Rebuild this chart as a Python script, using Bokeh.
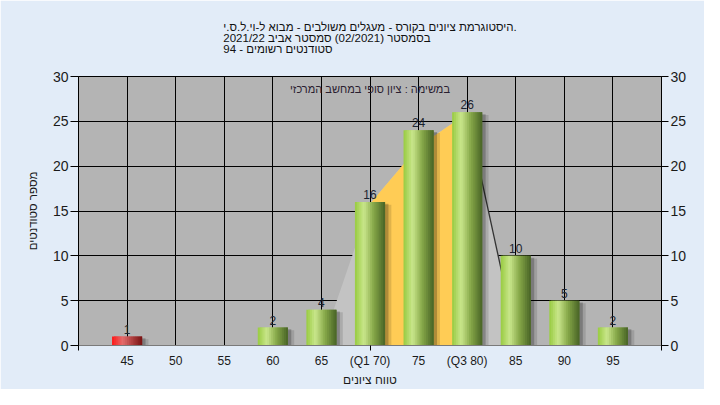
from bokeh.plotting import figure
from bokeh.models import (LinearAxis, FixedTicker, Range1d, Label, Title)
from bokeh.core.properties import value
from bokeh.embed import file_html
from bokeh.resources import INLINE

# ---------------- data ----------------
bins = [45, 50, 55, 60, 65, 70, 75, 80, 85, 90, 95]
counts = [1, 0, 0, 2, 4, 16, 24, 26, 10, 5, 2]
tick_labels = ["45", "50", "55", "60", "65", "(Q1 70)", "75", "(Q3 80)", "85", "90", "95"]
failing_bins = [45]
# frequency-polygon outline
poly_x = [65, 70, 75, 80, 85.2]
poly_y = [0, 15.8, 22.2, 25.9, 0]
q1, q3 = 70, 80
y_ticks = [0, 5, 10, 15, 20, 25, 30]

title_lines = [
    "היסטוגרמת ציונים בקורס - מעגלים משולבים - מבוא ל-וי.ל.ס.י.",
    "בסמסטר  (02/2021)  סמסטר אביב 2021/22",
    "סטודנטים רשומים - 94",
]
note_text = "במשימה : ציון סופי במחשב המרכזי"
x_title = "טווח ציונים"
y_title = "מספר סטודנטים"

FONT = "Liberation Sans"
BAR_W = 3.1
N_STRIPS = 16

green_stops = [(0.0, (0x98, 0xcb, 0x40)), (0.30, (0xc9, 0xe6, 0x8c)),
               (0.62, (0x86, 0xa8, 0x48)), (1.0, (0x48, 0x63, 0x26))]
red_stops = [(0.0, (0xff, 0x16, 0x16)), (0.35, (0xe3, 0x6c, 0x6c)),
             (1.0, (0x78, 0x12, 0x12))]


def interp(stops, t):
    for (t0, c0), (t1, c1) in zip(stops[:-1], stops[1:]):
        if t <= t1:
            f = (t - t0) / (t1 - t0) if t1 > t0 else 0
            c = [round(a + (b - a) * f) for a, b in zip(c0, c1)]
            return "#%02x%02x%02x" % tuple(c)
    return "#%02x%02x%02x" % stops[-1][1]


p = figure(width=704, height=389, output_backend="svg", toolbar_location=None,
           x_range=Range1d(40, 100), y_range=Range1d(0, 30),
           min_border_left=78, min_border_right=43, min_border_top=72,
           min_border_bottom=42)
p.border_fill_color = "#e2ecf8"
p.background_fill_color = "#b4b4b4"
p.outline_line_color = "#000000"

# multi-line title block
p.add_layout(Title(text="\n".join(title_lines), align="center", vertical_align="top",
                   text_font=FONT, text_font_size="11.5px", text_font_style="normal",
                   text_color="#111111", text_line_height=0.92, standoff=40), "above")

# axes
p.xaxis.ticker = FixedTicker(ticks=bins, minor_ticks=[40, 70, 100])
p.xaxis.major_label_overrides = {b: t for b, t in zip(bins, tick_labels)}
p.xaxis.major_tick_out = 0
p.xaxis.major_tick_in = 0
p.xaxis.minor_tick_out = 5
p.xaxis.minor_tick_in = 0
p.xaxis.minor_tick_line_color = "#000000"
p.xaxis.axis_line_color = "#7a7a7a"
p.xaxis.major_label_text_font = FONT
p.xaxis.major_label_text_font_size = "12px"
p.xaxis.major_label_text_color = "#1a1a1a"
p.xaxis.major_label_standoff = 3
p.xaxis.axis_label = x_title
p.xaxis.axis_label_text_font = FONT
p.xaxis.axis_label_text_font_size = "12px"
p.xaxis.axis_label_text_font_style = "normal"
p.xaxis.axis_label_text_color = "#1a1a1a"
p.xaxis.axis_label_standoff = 2

p.yaxis.ticker = FixedTicker(ticks=y_ticks, minor_ticks=[])
p.yaxis.major_tick_out = 8
p.yaxis.major_tick_in = 0
p.yaxis.axis_line_color = "#000000"
p.yaxis.major_tick_line_color = "#000000"
p.yaxis.major_label_text_font = FONT
p.yaxis.major_label_text_font_size = "14px"
p.yaxis.major_label_text_color = "#1a1a1a"
p.yaxis.major_label_standoff = 2
p.yaxis.axis_label = y_title
p.yaxis.axis_label_text_font = FONT
p.yaxis.axis_label_text_font_size = "11.5px"
p.yaxis.axis_label_text_font_style = "normal"
p.yaxis.axis_label_text_color = "#1a1a1a"
p.yaxis.axis_label_standoff = 11

ry = LinearAxis(ticker=FixedTicker(ticks=y_ticks, minor_ticks=[]))
ry.major_tick_out = 7
ry.major_tick_in = 0
ry.axis_line_color = "#000000"
ry.major_tick_line_color = "#000000"
ry.major_label_text_font = FONT
ry.major_label_text_font_size = "14px"
ry.major_label_text_color = "#1a1a1a"
ry.major_label_standoff = 2
p.add_layout(ry, "right")

p.xgrid.ticker = FixedTicker(ticks=bins)
p.ygrid.ticker = FixedTicker(ticks=y_ticks)
p.xgrid.grid_line_color = "#000000"
p.ygrid.grid_line_color = "#000000"
p.xgrid.grid_line_alpha = 1
p.ygrid.grid_line_alpha = 1

# frequency polygon area (light) and inter-quartile part (orange)
p.patch(poly_x, poly_y, fill_color="#c3c3c3", line_color=None)
iq_x = [q1] + [x for x in poly_x if q1 <= x <= q3] + [q3]
iq_y = [0] + [y for x, y in zip(poly_x, poly_y) if q1 <= x <= q3] + [0]
p.patch(iq_x, iq_y, fill_color="#ffcc55", line_color=None)
p.line(poly_x[-2:], poly_y[-2:], line_color="#333333", line_width=1.3)

# shadows
vals = [(b, c) for b, c in zip(bins, counts) if c > 0]
p.vbar(x=[b + 0.5 for b, c in vals], width=BAR_W + 0.3, top=[c - 0.3 for b, c in vals],
       bottom=-1, fill_color="#000000", fill_alpha=0.12, line_color=None)
p.vbar(x=[b + 0.35 for b, c in vals], width=BAR_W, top=[c - 0.2 for b, c in vals],
       bottom=-1, fill_color="#000000", fill_alpha=0.22, line_color=None)

# gradient bars made of overlapping thin strips
lefts, rights, tops, cols = [], [], [], []
sw = BAR_W / N_STRIPS
for b, c in vals:
    stops = red_stops if b in failing_bins else green_stops
    x0 = b - BAR_W / 2
    for k in range(N_STRIPS):
        t = (k + 0.5) / N_STRIPS
        lefts.append(x0 + k * sw)
        rights.append(min(x0 + (k + 2) * sw, b + BAR_W / 2))
        tops.append(c)
        cols.append(interp(stops, t))
p.quad(left=lefts, right=rights, top=tops, bottom=0, fill_color=cols, line_color=None)

# value labels
p.text(x=[b for b, c in vals], y=[c for b, c in vals], text=[str(c) for b, c in vals],
       text_align="center", text_baseline="bottom", y_offset=-3,
       text_font=value(FONT), text_font_size="12px", text_color="#1c2430")

# note inside the plot
p.add_layout(Label(x=70, y=28.6, text=note_text, text_align="center",
                   text_baseline="middle", text_font=FONT, text_font_size="11px",
                   text_color="#2a2030"))

open("out.html", "w").write(file_html(p, INLINE))
